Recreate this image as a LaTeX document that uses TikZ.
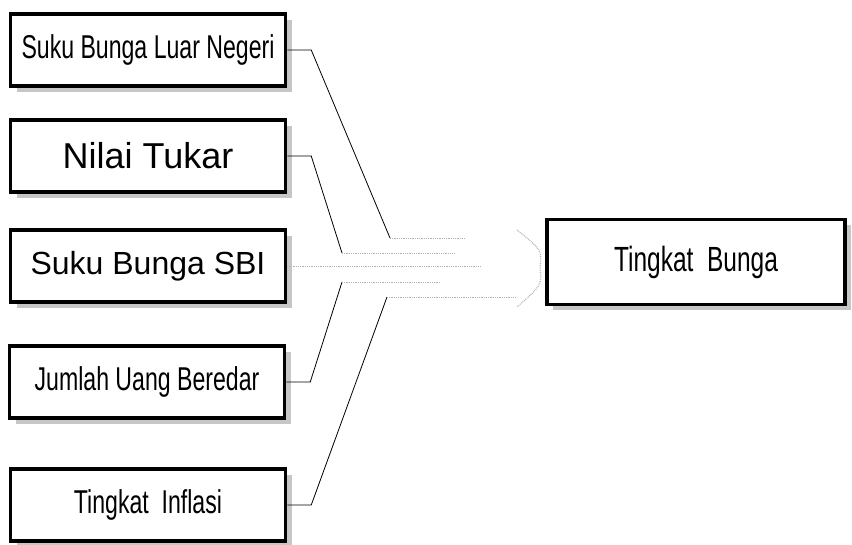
\documentclass[tikz,border=0pt]{standalone}
\usepackage{fontspec}
\setmainfont{Liberation Sans}
\newfontfamily\narrowfont[FakeStretch=0.7]{Liberation Sans}
\usetikzlibrary{shadows}
\newcommand{\narrowtext}{\narrowfont\fontsize{33}{38}\selectfont}
\newcommand{\widetext}{\fontsize{32}{36}\selectfont}

\begin{document}
\begin{tikzpicture}[x=1pt, y=-1pt,
    factor/.style={draw, line width=3.5pt, fill=white, minimum width=275pt, minimum height=72pt, inner sep=0pt, font=#1,
        drop shadow={shadow xshift=6pt, shadow yshift=-6pt, fill=gray!45, opacity=1}},
    link/.style={line width=0.8pt, black},
    fade/.style={line width=0.8pt, gray!60, densely dotted},
]
\useasboundingbox (0,0) rectangle (852,545);

\node[factor=\narrowtext] (luar) at (148,50) {Suku Bunga Luar Negeri};
\node[factor={\fontsize{36}{40}\selectfont}] (tukar) at (148,156) {Nilai Tukar};
\node[factor=\widetext] (sbi) at (148,266) {Suku Bunga SBI};
\node[factor=\narrowtext] (uang) at (147,382) {Jumlah Uang Beredar};
\node[factor=\narrowtext] (inflasi) at (148,505) {Tingkat\ \ Inflasi};
\node[factor={\narrowfont\fontsize{35}{40}\selectfont}, minimum width=298pt, minimum height=85pt] (bunga) at (696,262) {Tingkat\ \ Bunga};

% bends of the fan
\coordinate (b1) at (390,238); \coordinate (e1) at (465,238);
\coordinate (b2) at (342,253); \coordinate (e2) at (455,253);
\coordinate (e3) at (480,266);
\coordinate (b4) at (342,282); \coordinate (e4) at (440,282);
\coordinate (b5) at (387,297); \coordinate (e5) at (515,297);

\draw[link] (luar.east) -- ++(24,0) -- (b1);
\draw[link] (tukar.east) -- ++(24,0) -- (b2);
\draw[link] (uang.east) -- ++(24,0) -- (b4);
\draw[link] (inflasi.east) -- ++(24,0) -- (b5);
\draw[fade] (b1) -- (e1);
\draw[fade] (b2) -- (e2);
\draw[fade] (sbi.east) -- (e3);
\draw[fade] (b4) -- (e4);
\draw[fade] (b5) -- (e5);

% open head in front of the result
\draw[fade, line width=1.2pt] (517,230) .. controls (542,250) .. (540,268) .. controls (542,285) .. (517,307);
\end{tikzpicture}
\end{document}
